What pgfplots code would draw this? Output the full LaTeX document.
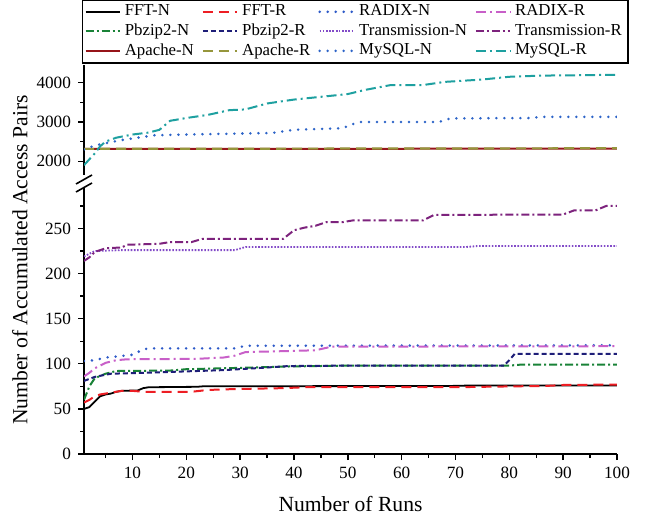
\documentclass[border=0pt]{standalone}
\usepackage{fontspec}
\setmainfont{Liberation Serif}
\usepackage{pgfplots}
\pgfplotsset{compat=1.18}

\definecolor{cfftr}{RGB}{237,30,36}
\definecolor{cradn}{RGB}{45,90,200}
\definecolor{cradr}{RGB}{200,95,200}
\definecolor{cpbn}{RGB}{25,130,55}
\definecolor{cpbr}{RGB}{30,30,120}
\definecolor{ctrn}{RGB}{130,75,200}
\definecolor{ctrr}{RGB}{125,35,125}
\definecolor{capn}{RGB}{150,20,25}
\definecolor{capr}{RGB}{150,150,60}
\definecolor{cmyn}{RGB}{45,100,200}
\definecolor{cmyr}{RGB}{30,160,160}

\pgfplotsset{
  fftn/.style={black, solid, line width=0.9pt},
  fftr/.style={cfftr, line width=1pt, dash pattern=on 5pt off 3pt},
  radn/.style={cradn, line width=1.4pt, line cap=round, dash pattern=on 0pt off 4pt},
  radr/.style={cradr, line width=1pt, dash pattern=on 5pt off 2pt on 1pt off 2pt},
  pbn/.style={cpbn, line width=1pt, dash pattern=on 4pt off 1.5pt on 1pt off 1.5pt},
  pbr/.style={cpbr, line width=1pt, dash pattern=on 2.5pt off 1.5pt},
  trn/.style={ctrn, line width=0.9pt, dash pattern=on 0.8pt off 0.8pt},
  trr/.style={ctrr, line width=1pt, dash pattern=on 4pt off 1.5pt on 1pt off 1.5pt},
  apn/.style={capn, solid, line width=1pt},
  apr/.style={capr, line width=1.1pt, dash pattern=on 5pt off 3pt},
  myn/.style={cmyn, line width=1.4pt, line cap=round, dash pattern=on 0pt off 4pt},
  myr/.style={cmyr, line width=1pt, dash pattern=on 5pt off 2pt on 1pt off 2pt},
  base/.style={
    scale only axis, width=266.5pt,
    xmin=1, xmax=100,
    tick align=outside,
    axis line style={-, line width=0.8pt},
    major tick length=3pt, minor tick length=2pt,
    tick style={line width=0.7pt, black},
    every tick label/.append style={font=\fontsize{8.6}{10}\selectfont},
    /pgf/number format/assume math mode=true,
    /pgf/number format/1000 sep={},
  },
}

\begin{document}
\begin{tikzpicture}
\path[use as bounding box] (-42pt,-32pt) rectangle (281pt,227pt);

% lower part
\begin{axis}[base, at={(0,0)}, height=133.5pt,
    ymin=0, ymax=296,
    axis x line*=bottom, axis y line*=left,
    xtick={10,20,...,100}, minor xtick={5,15,...,95},
    ytick={0,50,...,250}, minor ytick={25,75,...,275},
    xlabel={Number of Runs},
    xlabel style={font=\fontsize{10.8}{12}\selectfont, yshift=-2pt},
]
\addplot[fftn] coordinates {(1,50) (2,52) (3,58) (4,64) (5,66) (6,67) (7,69) (8,70) (11,70.5) (12,73) (13,74) (22,74.5) (23,75) (70,75.5) (73,76) (100,76)};
\addplot[fftr] coordinates {(1,57) (2,60) (3,64) (4,66) (6,68) (8,70) (10,70) (12,69) (21,69) (24,71) (29,72) (38,73) (42,74) (70,74) (75,74.5) (87,75.5) (90,76.5) (100,77)};
\addplot[radn] coordinates {(1,103) (3,104) (5,107) (7,108) (10,110) (12,116) (13,117) (29,117) (31,120) (100,120.5)};
\addplot[radr] coordinates {(1,86) (2,90) (3,95) (5,101) (7,104) (9,105) (22,105.5) (27,107) (29,109) (31,113) (38,114) (44,115) (47,119) (100,119.5)};
\addplot[pbn] coordinates {(1,60) (2,75) (3,84) (5,89) (7,92) (17,92.5) (20,94) (30,95.5) (39,97) (50,98) (80,98) (82,99) (100,99)};
\addplot[pbr] coordinates {(1,81) (3,85.5) (6,89) (12,90) (17,91) (27,93) (34,95.5) (39,97.5) (50,98) (79,98) (80,104) (81,111) (100,111)};
\addplot[trn] coordinates {(1,219) (2,222) (3,225) (8,226) (29,226) (31,229.5) (72,229.5) (74,230.5) (100,230.5)};
\addplot[trr] coordinates {(1,214) (2,218) (3,224) (5,228) (8,229) (9,232) (15,233) (17,235) (21,235) (23,238.5) (38,238.5) (40,248) (42,251) (44,253) (46,257) (49,257) (51,259) (64,259) (66,265) (90,265.5) (92,270) (96,270) (98,275) (100,275)};
\end{axis}

% upper part
\begin{axis}[base, at={(0,139.5pt)}, height=55pt,
    ymin=1650, ymax=4450,
    axis x line=none, axis y line*=left,
    ytick={2000,3000,4000}, minor ytick={2500,3500},
    legend columns=4,
    legend cell align=left,
    legend style={at={(-0.004,1.60)}, anchor=north west,
      draw=black, line width=0.8pt,
      font=\fontsize{8.4}{10}\selectfont,
      inner xsep=1pt, inner ysep=0.5pt,
      row sep=-1.5pt,
      /tikz/every even column/.append style={column sep=2pt}},
]
\addlegendimage{fftn}\addlegendentry{FFT-N}
\addlegendimage{fftr}\addlegendentry{FFT-R}
\addlegendimage{radn}\addlegendentry{RADIX-N}
\addlegendimage{radr}\addlegendentry{RADIX-R}
\addlegendimage{pbn}\addlegendentry{Pbzip2-N}
\addlegendimage{pbr}\addlegendentry{Pbzip2-R}
\addlegendimage{trn}\addlegendentry{Transmission-N}
\addlegendimage{trr}\addlegendentry{Transmission-R}
\addlegendimage{apn}\addlegendentry{Apache-N}
\addlegendimage{apr}\addlegendentry{Apache-R}
\addlegendimage{myn}\addlegendentry{MySQL-N}
\addlegendimage{myr}\addlegendentry{MySQL-R}
\addplot[apn, forget plot] coordinates {(1,2315) (100,2320)};
\addplot[apr, forget plot] coordinates {(1,2315) (100,2330)};
\addplot[myn, forget plot] coordinates {(1,2300) (3,2400) (5,2460) (8,2540) (12,2620) (14,2660) (20,2680) (28,2700) (36,2720) (40,2800) (49,2840) (52,3000) (67,3000) (69,3090) (84,3100) (86,3130) (100,3130)};
\addplot[myr, forget plot] coordinates {(1,1900) (2,2050) (3,2200) (4,2380) (5,2500) (7,2600) (10,2680) (13,2730) (15,2800) (17,3030) (20,3100) (24,3180) (28,3300) (31,3320) (35,3470) (40,3570) (45,3640) (50,3710) (53,3810) (58,3940) (64,3940) (68,4020) (75,4080) (80,4150) (86,4180) (100,4200)};
\end{axis}

% axis break marks
\draw[line width=0.8pt] (-4pt,131pt) -- (4pt,135.5pt);
\draw[line width=0.8pt] (-4pt,135pt) -- (4pt,139.5pt);

\node[rotate=90, font=\fontsize{10.8}{12}\selectfont] at (-32pt,97pt) {Number of Accumulated Access Pairs};
\end{tikzpicture}
\end{document}
